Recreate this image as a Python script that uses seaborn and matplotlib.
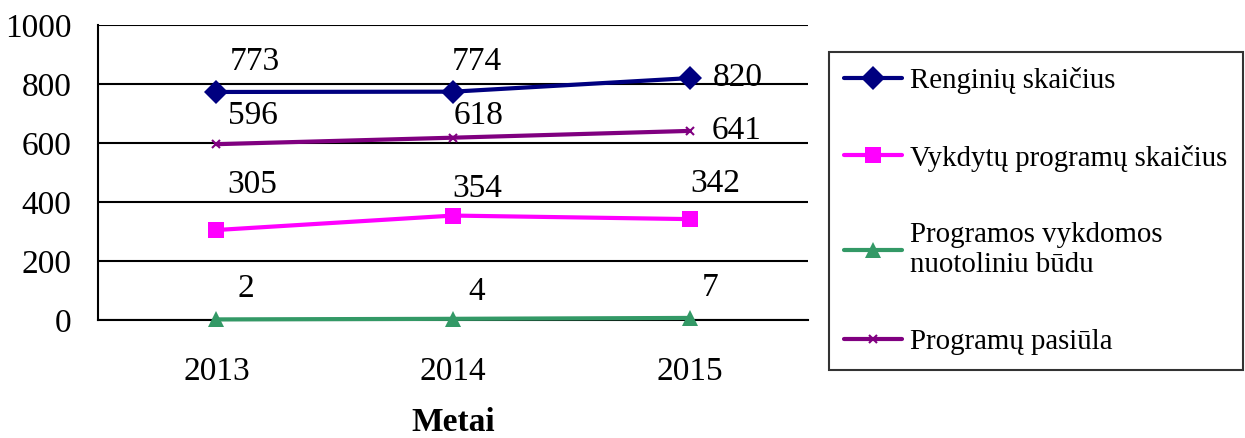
import pandas as pd
import matplotlib.pyplot as plt
import seaborn as sns

# data
years = ["2013", "2014", "2015"]
renginiai = [773, 774, 820]
vykdytos = [305, 354, 342]
nuotolines = [2, 4, 7]
pasiula = [596, 618, 641]

series_names = ["Renginių skaičius", "Vykdytų programų skaičius",
                "Programos vykdomos\nnuotoliniu būdu", "Programų pasiūla"]
series_values = [renginiai, vykdytos, nuotolines, pasiula]
colors = ["#000080", "#FF00FF", "#339966", "#800080"]
markers = ["D", "s", "^", "x"]
msizes = [12, 12, 12, 6]
# label offsets (pixels) relative to each point
offsets = [[(38, 30), (24, 30), (48, 0)],
           [(36, 45), (24, 27), (26, 35)],
           [(30, 31), (24, 27), (20, 30)],
           [(37, 28), (26, 22), (47, 0)]]

sns.set_theme(style="white")
plt.rcParams['font.family'] = ['Liberation Serif', 'DejaVu Serif']
plt.rcParams['text.color'] = 'black'
plt.rcParams['xtick.color'] = 'black'
plt.rcParams['ytick.color'] = 'black'
plt.rcParams['axes.labelcolor'] = 'black'

fig = plt.figure(figsize=(12.45, 4.38), dpi=100)
ax = fig.add_axes([98 / 1245, 1 - 320 / 438, 710 / 1245, 295 / 438])

xpos = [i + 0.5 for i in range(len(years))]
for name, vals, c, m, ms, offs in zip(series_names, series_values, colors, markers, msizes, offsets):
    df = pd.DataFrame({"x": xpos, "y": vals})
    sns.lineplot(data=df, x="x", y="y", ax=ax, color=c, marker=m, markersize=ms,
                 markeredgecolor=c, markeredgewidth=1.5 if m == "x" else 0,
                 linewidth=3, label=name, clip_on=False, zorder=3)
    for x, v, (dx, dy) in zip(xpos, vals, offs):
        ax.annotate(str(v), (x, v), xytext=(dx, dy), textcoords="offset pixels",
                    ha="center", va="center", fontsize=24, color="black")

ax.set_xlim(0, 3)
ax.set_ylim(0, 1000)
ax.set_yticks(range(0, 1001, 200))
ax.set_xticks(xpos)
ax.set_xticklabels(years)
ax.set_xticks([1, 2, 3], minor=True)
ax.tick_params(axis="x", which="major", length=0, pad=26, labelsize=24)
ax.tick_params(axis="x", which="minor", length=7, width=1.5, color="black", direction="out")
ax.tick_params(axis="y", length=7, width=1.5, color="black", direction="out", pad=12, labelsize=24)
ax.yaxis.grid(True, color="black", linewidth=1.5)
ax.set_axisbelow(True)
for s in ["top", "right"]:
    ax.spines[s].set_visible(False)
for s in ["left", "bottom"]:
    ax.spines[s].set_color("black")
    ax.spines[s].set_linewidth(1.5)
ax.set_ylabel("")
ax.set_xlabel("Metai", fontweight="bold", fontsize=24, labelpad=15)

handles, labels = ax.get_legend_handles_labels()
ax.get_legend().remove()
leg = fig.legend(handles, labels, loc="upper left", bbox_to_anchor=(829 / 1245, 1 - 52 / 438),
                 frameon=True, fancybox=False, edgecolor="black", fontsize=20.8,
                 handlelength=2.0, handletextpad=0.3, labelspacing=1.75,
                 borderpad=0.52, borderaxespad=0)
leg.get_frame().set_linewidth(1.5)

fig.savefig("out.png", dpi=100)
